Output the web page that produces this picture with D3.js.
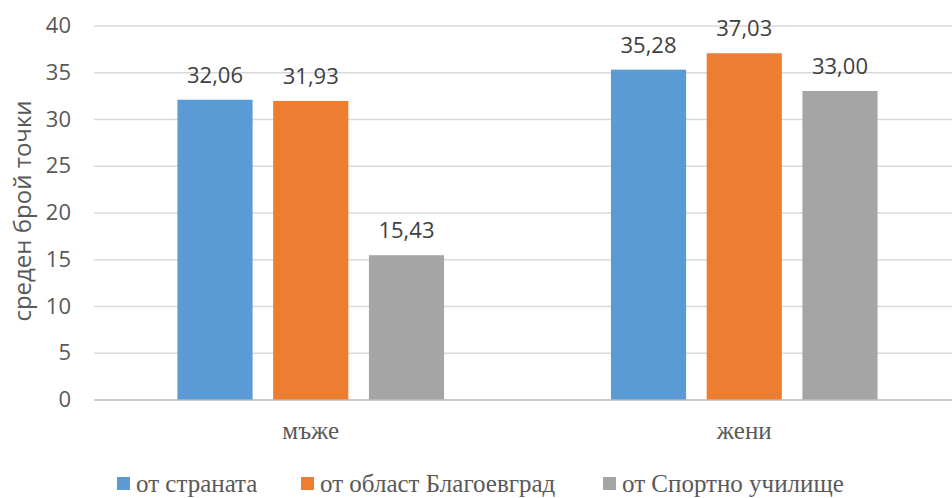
<!DOCTYPE html>
<html>
<head>
<meta charset="utf-8">
<script src="https://cdn.jsdelivr.net/npm/d3@7"></script>
<style>
  html, body { margin: 0; padding: 0; background: #fff; }
  svg { display: block; }
</style>
</head>
<body>
<svg id="chart" width="952" height="498"></svg>
<script>
// Categories, series and values
const categories = ["мъже", "жени"];
const seriesNames = ["от страната", "от област Благоевград", "от Спортно училище"];
const seriesColors = ["#5B9BD5", "#ED7D31", "#A5A5A5"];
const valuesStrana = [32.06, 35.28];
const valuesBlagoevgrad = [31.93, 37.03];
const valuesUchilishte = [15.43, 33.00];
const yTicks = [0, 5, 10, 15, 20, 25, 30, 35, 40];
const yTitle = "среден брой точки";

const seriesValues = [valuesStrana, valuesBlagoevgrad, valuesUchilishte];

const svg = d3.select("#chart");
const W = 952, H = 498;

const plot = { left: 94, right: 961, top: 25.5, bottom: 399.5 };

const y = d3.scaleLinear().domain([0, 40]).range([plot.bottom, plot.top]);

const x0 = d3.scaleBand()
  .domain(categories)
  .range([plot.left, plot.right])
  .paddingInner(0.385)
  .paddingOuter(0.1925);

const x1 = d3.scaleBand()
  .domain(d3.range(seriesNames.length))
  .range([0, x0.bandwidth()])
  .paddingInner(0.215)
  .paddingOuter(0);

const sansFont = "'Open Sans', 'Noto Sans', sans-serif";
const serifFont = "'Liberation Serif', 'Times New Roman', serif";

// Horizontal gridlines with tick labels
const yAxis = d3.axisLeft(y)
  .tickValues(yTicks)
  .tickSize(-(W - plot.left))
  .tickPadding(23)
  .tickFormat(d3.format("d"));

const gy = svg.append("g")
  .attr("transform", `translate(${plot.left},0)`)
  .call(yAxis);
gy.select(".domain").remove();
gy.selectAll(".tick line")
  .attr("stroke", d => d === 0 ? "#c9c9c9" : "#d9d9d9")
  .attr("stroke-width", d => d === 0 ? 2 : 1.5);
gy.selectAll(".tick text")
  .attr("fill", "#595959")
  .style("font-family", sansFont)
  .style("font-size", "22px");

// Bars
const groups = svg.append("g")
  .selectAll("g")
  .data(categories)
  .join("g")
  .attr("transform", d => `translate(${x0(d)},0)`);

groups.selectAll("rect")
  .data((c, ci) => seriesValues.map((vals, si) => ({ si, v: vals[ci] })))
  .join("rect")
  .attr("x", d => x1(d.si))
  .attr("width", x1.bandwidth())
  .attr("y", d => y(d.v))
  .attr("height", d => y(0) - y(d.v))
  .attr("fill", d => seriesColors[d.si]);

// Value labels above the bars
const fmt = v => v.toFixed(2).replace(".", ",");
groups.selectAll("text.val")
  .data((c, ci) => seriesValues.map((vals, si) => ({ si, v: vals[ci] })))
  .join("text")
  .attr("class", "val")
  .attr("x", d => x1(d.si) + x1.bandwidth() / 2)
  .attr("y", d => y(d.v) - 17)
  .attr("text-anchor", "middle")
  .attr("fill", "#404040")
  .style("font-family", sansFont)
  .style("font-size", "22px")
  .text(d => fmt(d.v));

// Category labels
svg.append("g")
  .selectAll("text")
  .data(categories)
  .join("text")
  .attr("x", d => x0(d) + x0.bandwidth() / 2)
  .attr("y", 439)
  .attr("text-anchor", "middle")
  .attr("fill", "#595959")
  .style("font-family", serifFont)
  .style("font-size", "25px")
  .text(d => d);

// Y axis title
svg.append("text")
  .attr("transform", `translate(31,211) rotate(-90)`)
  .attr("text-anchor", "middle")
  .attr("fill", "#595959")
  .style("font-family", sansFont)
  .style("font-size", "24px")
  .text(yTitle);

// Legend
const legendX = [117, 301, 603];
const legend = svg.append("g")
  .selectAll("g")
  .data(seriesNames)
  .join("g")
  .attr("transform", (d, i) => `translate(${legendX[i]},477)`);
legend.append("rect")
  .attr("width", 13)
  .attr("height", 13)
  .attr("fill", (d, i) => seriesColors[i]);
legend.append("text")
  .attr("x", 19)
  .attr("y", 15)
  .attr("fill", "#595959")
  .style("font-family", serifFont)
  .style("font-size", "25px")
  .text(d => d);
</script>
</body>
</html>
